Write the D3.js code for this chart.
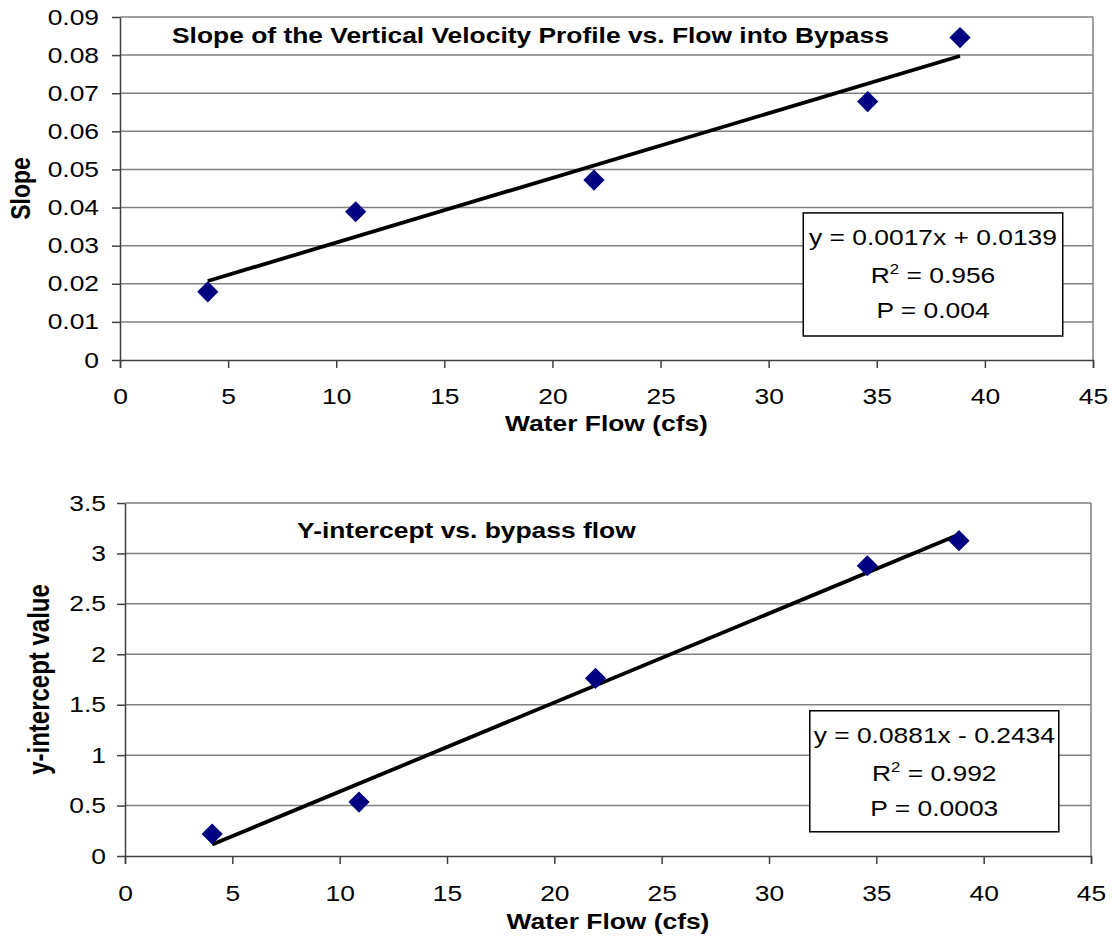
<!DOCTYPE html>
<html>
<head>
<meta charset="utf-8">
<script src="https://cdn.jsdelivr.net/npm/d3@7"></script>
<style>
  body { margin: 0; background: #fff; }
  svg { display: block; font-family: "Liberation Sans", Arial, sans-serif; }
</style>
</head>
<body>
<div id="chart"></div>
<script>
// flow into the bypass (cfs), shared by both panels
const flow = [4.06, 10.9, 21.92, 34.58, 38.85]
const slopeValues = [0.0179, 0.0389, 0.0472, 0.0678, 0.0846]
const interceptValues = [0.218, 0.535, 1.762, 2.878, 3.126]

const xTicks = [0, 5, 10, 15, 20, 25, 30, 35, 40, 45]
const slopeTicks = [0, 0.01, 0.02, 0.03, 0.04, 0.05, 0.06, 0.07, 0.08, 0.09]
const interceptTicks = [0, 0.5, 1, 1.5, 2, 2.5, 3, 3.5]

const slopeStats = ["y = 0.0017x + 0.0139", "0.956", "P = 0.004"]
const interceptStats = ["y = 0.0881x - 0.2434", "0.992", "P = 0.0003"]

const width = 1116
const height = 943
const sx = 1.2 // the original text is drawn a little wider than Arial

const svg = d3.select('#chart')
.append('svg')
.attr('width', width)
.attr('height', height)

const panels = [
	{
		title: 'Slope of the Vertical Velocity Profile vs. Flow into Bypass',
		titlePos: [172, 43],
		yLabel: 'Slope', yLabelSize: 23, yLabelX: 30,
		values: slopeValues, ticks: slopeTicks,
		fmt: d => d === 0 ? '0' : d.toFixed(2),
		stats: slopeStats,
		xr: [120, 1093], yr: [360, 17],
		box: {x0: 31.6, x1: 43.6, y0: 0.0386, y1: 0.0063},
		labelGap: 21, tickPad: 20, xTitleY: 431
	},
	{
		title: 'Y-intercept vs. bypass flow',
		titlePos: [297, 538],
		yLabel: 'y-intercept value', yLabelSize: 24, yLabelX: 49,
		values: interceptValues, ticks: interceptTicks,
		fmt: d => String(d),
		stats: interceptStats,
		xr: [125, 1091], yr: [856, 503],
		box: {x0: 31.9, x1: 43.5, y0: 1.44, y1: 0.24},
		labelGap: 19, tickPad: 21, xTitleY: 929
	}
]

panels.forEach(p => drawPanel(p))

function drawPanel(p) {

	const g = svg.append('g')

	const xScale = d3.scaleLinear()
	.domain([0, 45])
	.range(p.xr)

	const yScale = d3.scaleLinear()
	.domain([0, d3.max(p.ticks)])
	.range(p.yr)

	// gridlines
	g.append('g')
	.selectAll('line')
	.data(p.ticks.filter(d => d > 0))
	.join('line')
	.attr('x1', p.xr[0])
	.attr('x2', p.xr[1])
	.attr('y1', d => yScale(d))
	.attr('y2', d => yScale(d))
	.attr('stroke', '#808080')
	.attr('stroke-width', 1.5)

	// right edge of plot area
	g.append('line')
	.attr('x1', p.xr[1]).attr('x2', p.xr[1])
	.attr('y1', p.yr[0]).attr('y2', p.yr[1])
	.attr('stroke', '#808080')
	.attr('stroke-width', 1.5)

	let xaxis = g.append('g')
	.attr('transform', `translate(0,${p.yr[0]})`)
	.call(
		d3.axisBottom(xScale)
		.tickValues(xTicks)
		.tickSize(8)
		.tickPadding(p.tickPad)
		.tickFormat(d => d)
	)
	xaxis.select('.domain').attr('stroke', '#404040').attr('stroke-width', 1.5)
	xaxis.selectAll('.tick line').attr('stroke', '#404040').attr('stroke-width', 1.5)
	xaxis.selectAll('text')
	.attr('fill', '#000')
	.style('font-size', '22px')
	.attr('transform', `scale(${sx},1)`)

	let yaxis = g.append('g')
	.attr('transform', `translate(${p.xr[0]},0)`)
	.call(
		d3.axisLeft(yScale)
		.tickValues(p.ticks)
		.tickSize(8)
		.tickSizeOuter(0)
		.tickFormat(p.fmt)
	)
	yaxis.select('.domain').attr('stroke', '#404040').attr('stroke-width', 1.5)
	yaxis.selectAll('.tick line').attr('stroke', '#404040').attr('stroke-width', 1.5)
	yaxis.selectAll('text')
	.attr('fill', '#000')
	.attr('x', -p.labelGap / sx)
	.style('font-size', '22px')
	.attr('transform', `scale(${sx},1)`)

	// least squares trend line, as the spreadsheet draws it
	const mx = d3.mean(flow)
	const my = d3.mean(p.values)
	const b = d3.sum(flow, (x, i) => (x - mx) * (p.values[i] - my)) / d3.sum(flow, x => (x - mx) ** 2)
	const a = my - b * mx
	const ends = d3.extent(flow)

	g.append('line')
	.attr('x1', xScale(ends[0]))
	.attr('y1', yScale(a + b * ends[0]))
	.attr('x2', xScale(ends[1]))
	.attr('y2', yScale(a + b * ends[1]))
	.attr('stroke', '#000')
	.attr('stroke-width', 3.8)

	// diamond markers
	g.append('g')
	.selectAll('path')
	.data(flow.map((x, i) => ({x: x, y: p.values[i]})))
	.join('path')
	.attr('d', d3.symbol(d3.symbolSquare, 225))
	.attr('transform', d => `translate(${xScale(d.x)},${yScale(d.y)}) rotate(45)`)
	.attr('fill', '#000080')

	// chart title
	g.append('text')
	.attr('transform', `translate(${p.titlePos[0]},${p.titlePos[1]}) scale(${sx},1)`)
	.style('font-size', '22px')
	.style('font-weight', 'bold')
	.text(p.title)

	// axis titles
	g.append('text')
	.attr('transform', `translate(${(p.xr[0] + p.xr[1]) / 2},${p.xTitleY}) scale(${sx},1)`)
	.attr('text-anchor', 'middle')
	.style('font-size', '22px')
	.style('font-weight', 'bold')
	.text('Water Flow (cfs)')

	g.append('text')
	.attr('transform', `translate(${p.yLabelX},${(p.yr[0] + p.yr[1]) / 2}) scale(${sx},1) rotate(-90)`)
	.attr('text-anchor', 'middle')
	.style('font-size', p.yLabelSize + 'px')
	.style('font-weight', 'bold')
	.text(p.yLabel)

	// equation box
	const bx0 = xScale(p.box.x0), bx1 = xScale(p.box.x1)
	const by0 = yScale(p.box.y0), by1 = yScale(p.box.y1)

	g.append('rect')
	.attr('x', bx0)
	.attr('y', by0)
	.attr('width', bx1 - bx0)
	.attr('height', by1 - by0)
	.attr('fill', '#fff')
	.attr('stroke', '#000')
	.attr('stroke-width', 1.5)

	const cx = (bx0 + bx1) / 2
	const lineY = [by0 + 32, by0 + 70, by0 + 105]

	g.append('text')
	.attr('transform', `translate(${cx},${lineY[0]}) scale(${sx},1)`)
	.attr('text-anchor', 'middle')
	.style('font-size', '22px')
	.text(p.stats[0])

	const t2 = g.append('text')
	.attr('transform', `translate(${cx},${lineY[1]}) scale(${sx},1)`)
	.attr('text-anchor', 'middle')
	.style('font-size', '22px')
	t2.append('tspan').text('R')
	t2.append('tspan').attr('dy', -9).style('font-size', '14px').text('2')
	t2.append('tspan').attr('dy', 9).text(' = ' + p.stats[1])

	g.append('text')
	.attr('transform', `translate(${cx},${lineY[2]}) scale(${sx},1)`)
	.attr('text-anchor', 'middle')
	.style('font-size', '22px')
	.text(p.stats[2])
}
</script>
</body>
</html>
